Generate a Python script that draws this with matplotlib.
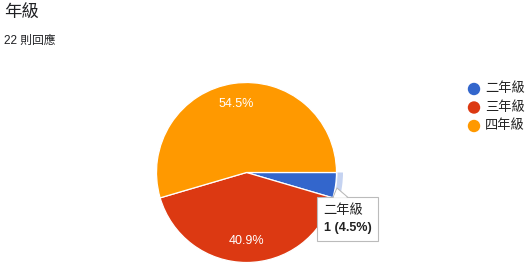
import matplotlib
matplotlib.use("Agg")
import matplotlib.pyplot as plt
from matplotlib.patches import Wedge, Rectangle, Polygon

plt.rcParams["font.family"] = ["Liberation Sans", "Noto Sans CJK TC", "DejaVu Sans"]

# data
categories = ["二年級", "三年級", "四年級"]
counts = [1, 9, 12]
colors = ["#3366cc", "#dc3912", "#ff9900"]
title = "年級"
subtitle = "22 則回應"
hover_idx = 0  # slice highlighted with tooltip

W, H = 530, 272
fig = plt.figure(figsize=(W / 100, H / 100), dpi=100)
ax = fig.add_axes([0, 0, 1, 1])


def py(y):
    # pixel row (top-down) -> data y
    return H - y


cx, cy, r = 246.5, py(172.5), 90
total = sum(counts)

wedges, _, autotexts = ax.pie(
    counts,
    colors=colors,
    center=(cx, cy),
    radius=r,
    startangle=0,
    counterclock=False,
    autopct=lambda p: f"{p:.1f}%" if p > 5 else "",
    pctdistance=0.765,
    wedgeprops=dict(edgecolor="white", linewidth=0.9),
    textprops=dict(color="white", fontsize=9),
    frame=True,
)

# hover ring around highlighted slice
w = wedges[hover_idx]
ax.add_patch(Wedge((cx, cy), r + 6.5, w.theta1, w.theta2, width=5.5,
                   facecolor="#c5d3f1", edgecolor="none"))

# tooltip
bx0, by0, bx1, by1 = 317, 197, 377.5, 240.5
ax.add_patch(Rectangle((bx0 + 1.5, py(by1) - 1.5), bx1 - bx0, by1 - by0,
                       facecolor="#00000018", edgecolor="none"))
ax.add_patch(Polygon([(333, py(197.5)), (337, py(188)), (348, py(197.5))],
                     closed=True, facecolor="white", edgecolor="#bbbbbb", lw=0.8))
ax.add_patch(Rectangle((bx0, py(by1)), bx1 - bx0, by1 - by0,
                       facecolor="white", edgecolor="#bbbbbb", lw=0.8))
ax.add_patch(Polygon([(333.6, py(197.8)), (337, py(189.5)), (347.2, py(197.8))],
                     closed=True, facecolor="white", edgecolor="none"))
pct = counts[hover_idx] / total * 100
ax.text(323.5, py(211), categories[hover_idx], fontsize=9.5, color="#222222",
        va="center", ha="left")
ax.text(323.5, py(228), f"{counts[hover_idx]} ({pct:.1f}%)", fontsize=9,
        fontweight="bold", color="#222222", va="center", ha="left")

# legend
for i, (name, col) in enumerate(zip(categories, colors)):
    yy = py(89 + i * 18.5)
    ax.scatter([474], [yy], s=80, color=col, edgecolors="none")
    ax.text(485, yy, name, fontsize=9.5, color="#222222", va="center", ha="left")

# titles
ax.text(4, py(13), title, fontsize=12.5, color="#202124", va="center", ha="left")
ax.text(4, py(41), subtitle, fontsize=8.5, color="#202124", va="center", ha="left")

ax.set_xlim(0, W)
ax.set_ylim(0, H)
ax.set_aspect("auto")
ax.axis("off")

fig.savefig("out.png", dpi=100, facecolor="white")
